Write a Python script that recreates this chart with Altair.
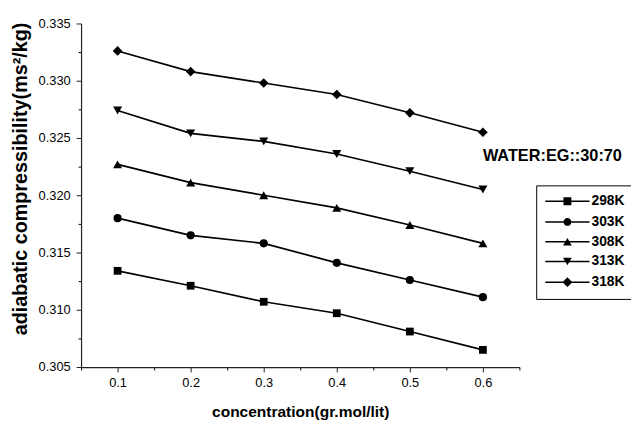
import altair as alt
import pandas as pd

# ---- data ----
conc = [0.1, 0.2, 0.3, 0.4, 0.5, 0.6]
series = ["298K", "303K", "308K", "313K", "318K"]
k298 = [0.3134, 0.3121, 0.3107, 0.3097, 0.3081, 0.3065]
k303 = [0.3180, 0.3165, 0.3158, 0.3141, 0.3126, 0.3111]
k308 = [0.3227, 0.3211, 0.3200, 0.3189, 0.3174, 0.3158]
k313 = [0.3274, 0.3254, 0.3247, 0.3236, 0.3221, 0.3205]
k318 = [0.3326, 0.3308, 0.3298, 0.3288, 0.3272, 0.3255]
x_major = [0.1, 0.2, 0.3, 0.4, 0.5, 0.6]
x_minor = [0.05, 0.15, 0.25, 0.35, 0.45, 0.55, 0.65]
y_major = [0.305, 0.310, 0.315, 0.320, 0.325, 0.330, 0.335]
y_minor = [0.3075, 0.3125, 0.3175, 0.3225, 0.3275, 0.3325]
note_text = ["WATER:EG::30:70"]
note_x = [0.6]
note_y = [0.3234]

FONT = "Liberation Sans"

rows = []
for name, vals in zip(series, [k298, k303, k308, k313, k318]):
    for c, v in zip(conc, vals):
        rows.append({"conc": c, "val": v, "T": name})
df = pd.DataFrame(rows)
note_df = pd.DataFrame({"x": note_x, "y": note_y, "t": note_text})

xs = alt.Scale(domain=[0.05, 0.65], nice=False, zero=False)
ys = alt.Scale(domain=[0.305, 0.335], nice=False, zero=False)

minor_x_axis = alt.Axis(orient="bottom", values=x_minor, labels=False, domain=False,
                        grid=False, tickSize=3, tickColor="black", tickWidth=1, title=None)
minor_y_axis = alt.Axis(orient="left", values=y_minor, labels=False, domain=False,
                        grid=False, tickSize=3, tickColor="black", tickWidth=1, title=None)

major_x_axis = alt.Axis(orient="bottom", values=x_major, format=".1f", grid=False,
                        domainColor="#222", domainWidth=1.2, tickColor="#222", tickSize=5,
                        labelFont=FONT, labelFontSize=13, labelColor="black", labelPadding=5,
                        title="concentration(gr.mol/lit)", titleFont=FONT, titleFontSize=15.7,
                        titleFontWeight="bold", titleColor="black", titleY=45,
                        titleBaseline="middle")
major_y_axis = alt.Axis(orient="left", values=y_major, format=".3f", grid=False,
                        domainColor="#222", domainWidth=1.2, tickColor="#222", tickSize=5,
                        labelFont=FONT, labelFontSize=13, labelColor="black", labelPadding=6,
                        title="adiabatic compressibility(ms\u00b2/kg)", titleFont=FONT,
                        titleFontSize=20, titleFontWeight="bold", titleColor="black",
                        titleX=-61, titleY=157, titleBaseline="middle")

shapes = ["square", "circle", "triangle-up", "triangle-down", "diamond"]
sizes = [62, 68, 84, 84, 96]

# legend symbols: a thin filled bar (the line) plus the marker, same winding,
# shifted right so the marker sits mid-line
L = "M-1.7,-0.19H9.5V0.19H-1.7Z"
legend_paths = [
    L + "M2.9,-1H4.9V1H2.9Z",
    L + "M4.9,0A1,1,0,1,1,2.9,0A1,1,0,1,1,4.9,0Z",
    L + "M3.9,-0.95L5.0,0.95H2.8Z",
    L + "M3.9,0.95L2.8,-0.95H5.0Z",
    L + "M2.65,0L3.9,-1.25L5.15,0L3.9,1.25Z",
]

lines = alt.Chart(df).mark_line(color="black", strokeWidth=1.7).encode(
    x=alt.X("conc:Q", scale=xs, axis=minor_x_axis),
    y=alt.Y("val:Q", scale=ys, axis=minor_y_axis),
    detail="T:N",
)

point_layers = []
for i, (name, shp, sz) in enumerate(zip(series, shapes, sizes)):
    point_layers.append(
        alt.Chart(df).transform_filter(alt.datum.T == name).mark_point(
            filled=True, color="black", opacity=1, shape=shp, size=sz
        ).encode(
            x=alt.X("conc:Q", scale=xs, axis=major_x_axis if i == 0 else None),
            y=alt.Y("val:Q", scale=ys, axis=major_y_axis if i == 0 else None),
        )
    )

legend_layer = alt.Chart(df).transform_filter("false").mark_point(
    filled=True, color="black", opacity=1, size=64
).encode(
    x=alt.X("conc:Q", scale=xs, axis=None),
    y=alt.Y("val:Q", scale=ys, axis=None),
    shape=alt.Shape(
        "T:N",
        scale=alt.Scale(domain=series, range=legend_paths),
        legend=alt.Legend(
            title=None, orient="none", legendX=461, legendY=164,
            strokeColor="black", fillColor="white", padding=9,
            symbolSize=64, symbolFillColor="black",
            symbolOffset=0, labelOffset=33,
            labelExpr="datum.label + '      '",
            labelFont=FONT, labelFontSize=14, labelFontWeight="bold",
            labelColor="black", rowPadding=6,
        ),
    ),
)

note = alt.Chart(note_df).mark_text(
    align="left", baseline="middle", font=FONT, fontSize=16.5, fontWeight="bold", color="black"
).encode(
    x=alt.X("x:Q", scale=xs, axis=None),
    y=alt.Y("y:Q", scale=ys, axis=None),
    text="t:N",
)

chart = alt.layer(lines, *point_layers, legend_layer, note).resolve_axis(
    x="independent", y="independent"
).properties(
    width=444, height=348,
    autosize=alt.AutoSizeParams(type="none"),
    padding={"left": 74, "top": 13, "right": 113, "bottom": 53},
    background="white",
).configure_view(stroke=None)

chart.save("out.html", embed_options={"renderer": "svg", "actions": False})
